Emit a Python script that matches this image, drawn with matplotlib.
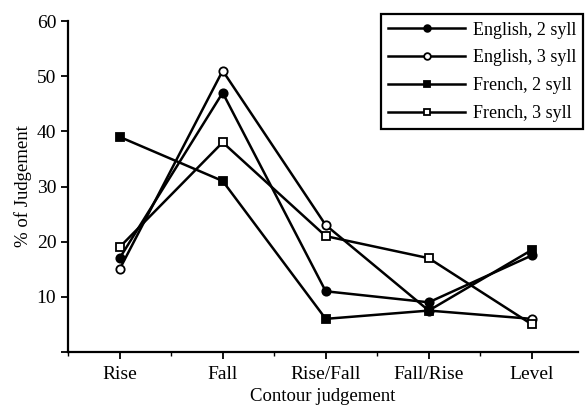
import matplotlib.pyplot as plt
import numpy as np
from matplotlib.ticker import MultipleLocator

plt.rcParams["font.family"] = ["Liberation Serif", "DejaVu Serif"]

categories = ["Rise", "Fall", "Rise/Fall", "Fall/Rise", "Level"]
english_2 = [17, 47, 11, 9, 17.5]
english_3 = [15, 51, 23, 7.5, 6]
french_2 = [39, 31, 6, 7.5, 18.5]
french_3 = [19, 38, 21, 17, 5]

x = np.arange(len(categories))

fig = plt.figure(figsize=(5.87, 4.05), dpi=100)
ax = fig.add_axes([0.116, 0.131, 0.869, 0.817])

style = dict(color="black", linewidth=1.8, markeredgewidth=1.3)
ax.plot(x, english_2, marker="o", markersize=6, markerfacecolor="black", label="English, 2 syll", **style)
ax.plot(x, english_3, marker="o", markersize=6, markerfacecolor="white", label="English, 3 syll", **style)
ax.plot(x, french_2, marker="s", markersize=5.5, markerfacecolor="black", label="French, 2 syll", **style)
ax.plot(x, french_3, marker="s", markersize=5.5, markerfacecolor="white", label="French, 3 syll", **style)

ax.set_xlim(-0.5, 4.45)
ax.set_ylim(0, 60)
ax.set_xticks(x)
ax.set_xticklabels(categories)
ax.xaxis.set_minor_locator(MultipleLocator(0.5))
ax.set_yticks([0, 10, 20, 30, 40, 50, 60])
ax.set_yticklabels(["", "10", "20", "30", "40", "50", "60"])

for side in ["top", "right"]:
    ax.spines[side].set_visible(False)
for side in ["left", "bottom"]:
    ax.spines[side].set_linewidth(1.6)
ax.tick_params(axis="both", which="major", labelsize=14, width=1.3, length=5, colors="black")
ax.tick_params(axis="x", which="major", pad=5)
ax.tick_params(axis="x", which="minor", length=3, width=1)

ax.set_xlabel("Contour judgement", fontsize=13.5, labelpad=4)
ax.set_ylabel("% of Judgement", fontsize=13.5, labelpad=3)

leg = ax.legend(loc="upper right", bbox_to_anchor=(1.01, 1.02), fontsize=13,
                frameon=True, fancybox=False, edgecolor="black", handlelength=4.3,
                handletextpad=0.4, borderpad=0.4, labelspacing=0.6, borderaxespad=0,
                markerscale=0.8)
leg.get_frame().set_linewidth(1.6)
leg.get_frame().set_alpha(1)

fig.savefig("out.png", dpi=100)
